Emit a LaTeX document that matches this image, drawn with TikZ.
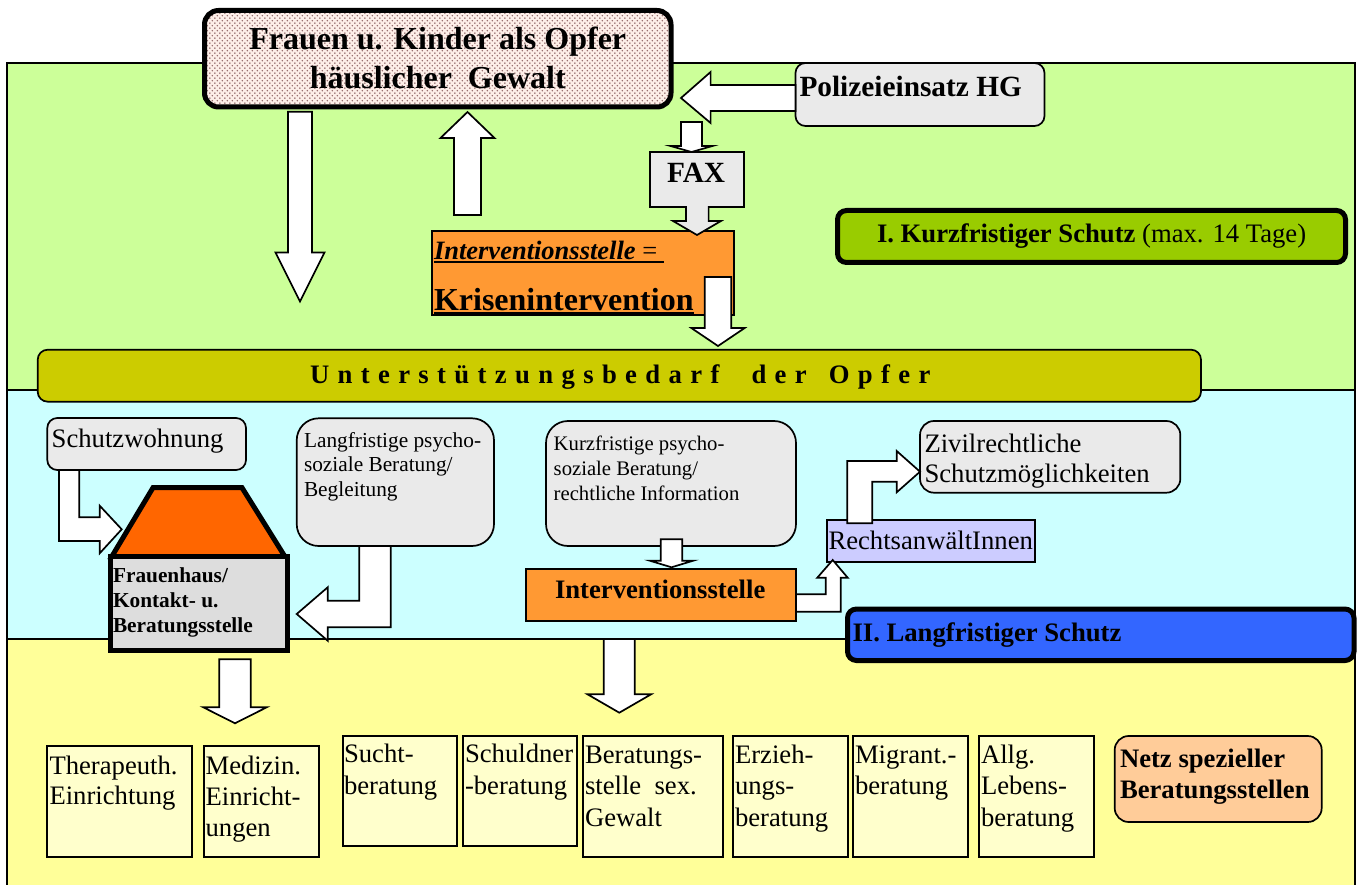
\documentclass[tikz,border=0pt]{standalone}
\usepackage{fontspec}
\setmainfont{Liberation Serif}
\newfontfamily\trackfont[LetterSpace=31.4]{Liberation Serif}
\usetikzlibrary{calc,patterns}
\definecolor{bandgreen}{HTML}{CCFF99}
\definecolor{bandcyan}{HTML}{CCFFFF}
\definecolor{bandyellow}{HTML}{FFFF99}
\definecolor{boxgrey}{HTML}{EAEAEA}
\definecolor{boxorange}{HTML}{FF9933}
\definecolor{roofred}{HTML}{FF6600}
\definecolor{housegrey}{HTML}{DDDDDD}
\definecolor{barolive}{HTML}{CCCC00}
\definecolor{tagone}{HTML}{99CC00}
\definecolor{tagtwo}{HTML}{3366FF}
\definecolor{lawyer}{HTML}{CCCCFF}
\definecolor{paleyellow}{HTML}{FFFFCC}
\definecolor{netzpeach}{HTML}{FFCC99}
\definecolor{dotpink}{HTML}{FDEEE8}
\definecolor{dotdark}{HTML}{8E6464}
\pgfdeclarepatternformonly{opferdots}{\pgfqpoint{-1pt}{-1pt}}{\pgfqpoint{4.4pt}{4.4pt}}{\pgfqpoint{5.4pt}{5.4pt}}{%
  \pgfpathcircle{\pgfqpoint{0pt}{0pt}}{0.9pt}
  \pgfpathcircle{\pgfqpoint{2.7pt}{2.7pt}}{0.9pt}
  \pgfusepath{fill}}
\newcommand\fs[2]{\fontsize{#1}{#2}\selectfont}
\newcommand\thickul[1]{\sbox0{#1}\rlap{\rule[-3pt]{\wd0}{2pt}}\box0}
% \tbox{style}{name}(x0,y0)(x1,y1)(text dx,first baseline dy){text}
\def\tbox#1#2(#3,#4)(#5,#6)(#7,#8)#9{%
  \pgfmathsetmacro\bw{#5-#3}\pgfmathsetmacro\bh{#6-#4}%
  \pgfmathsetmacro\bcx{(#3+#5)/2}\pgfmathsetmacro\bcy{(#4+#6)/2}%
  \node[#1,inner sep=0pt,outer sep=0pt,minimum width=\bw pt,minimum height=\bh pt,anchor=center] (#2) at (\bcx,\bcy)
    {\parbox[c][\bh pt][t]{\bw pt}{\hyphenpenalty=10000 \hfuzz=50pt \leftskip=#7pt\relax\leavevmode\rule{0pt}{#8pt}#9}};}
% vertical block arrow: x, from ref, dy, to ref, dy, half shaft, half head, head length
\newcommand\vblock[8]{%
  \draw[blockarrow] let \p1=(#1,0 |- #2),\p2=(#1,0 |- #4),
    \n1={\y1-(#3)},\n2={\y2-(#5)},\n3={ifthenelse(\n2>\n1,-1,1)*#8} in
    ({\x1-#6},{\n1}) -- ({\x1-#6},{\n2+\n3}) -- ({\x1-#7},{\n2+\n3}) -- ({\x1},{\n2})
    -- ({\x1+#7},{\n2+\n3}) -- ({\x1+#6},{\n2+\n3}) -- ({\x1+#6},{\n1}) -- cycle;}
\tikzset{
  x=1pt,y=-1pt,
  thinline/.style={draw=black,line width=1.7pt},
  blockarrow/.style={thinline,fill=white,line join=miter},
  band/.style={draw=black,line width=1.5pt},
  plainbox/.style={thinline,fill=#1},
  softbox/.style={thinline,fill=#1,rounded corners=10pt},
  softbig/.style={thinline,fill=#1,rounded corners=22pt},
  heavybox/.style={draw=black,line width=5pt,fill=#1,rounded corners=9pt},
  cellbox/.style={draw=black,line width=2pt,fill=paleyellow},
  textonly/.style={draw=none}
}
\begin{document}
\begin{tikzpicture}
\useasboundingbox (0,0) rectangle (1357,885);
\fill[white] (0,0) rectangle (1357,885);
% bands
\draw[band,fill=bandgreen] (7,63) rectangle (1355,390);
\draw[band,fill=bandcyan] (7,390) rectangle (1355,639);
\draw[band,fill=bandyellow] (7,639) rectangle (1355,890);
% victim box
\tbox{heavybox=dotpink,rounded corners=14pt,preaction={fill=dotpink},pattern=opferdots,pattern color=dotdark}{victim}(204.5,10.5)(671,107)(0,39.5){\centering\fs{32}{38.5}\bfseries Frauen u. Kinder als Opfer\\häuslicher\ \ Gewalt}
% police
\tbox{softbox=boxgrey}{police}(795.5,63)(1044.5,126)(4,33.7){\fs{29.33}{34}\bfseries Polizeieinsatz HG}
% upper orange box
\tbox{plainbox=boxorange}{krise}(432,231)(734,315)(2,29){\fs{26.5}{51}\thickul{\textbf{\textit{Interventionsstelle}} = }\\\fs{32}{51}\thickul{\textbf{Krisenintervention}}}
% fax callout
\draw[thinline,fill=boxgrey] (650,152) -- (744,152) -- (744,207) -- (708.6,207) -- (708.6,221) -- (721,221) -- (697,235)
  -- (673,221) -- (686,221) -- (686,207) -- (650,207) -- cycle;
\tbox{textonly}{fax}(650,152)(744,207)(17,30.7){\fs{29.33}{34}\bfseries FAX}
% tags
\tbox{heavybox=tagone}{tagI}(837.5,210.5)(1345.5,262.5)(39.5,32.2){\fs{26.67}{31}\textbf{I. Kurzfristiger Schutz} (max. 14 Tage)}
\coordinate (freeA) at (300,301.5);
\coordinate (freeB) at (718,346);
% connectors upper region
\vblock{300}{victim.south}{4.7}{freeA}{0}{12}{24.5}{49}
\vblock{467.5}{krise.north}{-16}{victim.south}{5}{13.5}{27}{26}
\vblock{691.5}{police.south}{-4}{fax.north}{0}{10.5}{21}{6}
\vblock{718}{krise.south}{-38}{freeB}{0}{13.3}{26.7}{18}
\coordinate (tipP) at (681,98);
\draw[blockarrow] (police.west |- 0,85) -- (710.6,85) -- (710.6,72) -- (tipP) -- (710.6,123) -- (710.6,111) -- (police.west |- 0,111) -- cycle;
% bar
\tbox{softbox=barolive}{bar}(37.7,349.7)(1201,401.7)(272.3,33.3){\fs{26.67}{31}\trackfont\bfseries Unterstützungsbedarf \hspace{17pt}der \hspace{7pt}Opfer}
% middle boxes
\tbox{softbox=boxgrey}{schutz}(47.3,418)(246,470)(4.4,29){\fs{26.67}{31}Schutzwohnung}
\tbox{softbig=boxgrey}{lang}(296.7,418.3)(494,546)(7.3,28.7){\fs{21.33}{24.5}Langfristige psycho-\\soziale Beratung/\\Begleitung}
\tbox{softbig=boxgrey}{kurz}(546,421)(796,546)(7.7,29){\fs{20.7}{25}Kurzfristige psycho-\\soziale Beratung/\\rechtliche Information}
\tbox{plainbox=boxorange}{interv}(525.7,569)(796,621)(29.3,29){\fs{26.67}{31}\bfseries Interventionsstelle}
\tbox{plainbox=lawyer}{rechts}(826.7,520)(1035,561.7)(1.8,29){\fs{26.67}{31}RechtsanwältInnen}
\tbox{softbox=boxgrey,rounded corners=14pt}{zivil}(920,421)(1180.3,492.7)(4.5,31){\fs{26.67}{30}Zivilrechtliche\\Schutzmöglichkeiten}
% tag II
\tbox{heavybox=tagtwo}{tagII}(847.5,609)(1354,660.5)(5,32.7){\fs{26.67}{31}\bfseries II. Langfristiger Schutz}
% lower cells
\tbox{cellbox}{cell1}(47.3,746)(191.7,857)(2.2,28){\fs{26.67}{30}Therapeuth.\\Einrichtung}
\tbox{cellbox}{cell2}(204.3,746)(319,857)(1.3,28){\fs{26.67}{31}Medizin.\\Einricht-\\ungen}
\tbox{cellbox}{cell3}(342.7,735.7)(457,846)(1.3,26.3){\fs{26.67}{32}Sucht-\\beratung}
\tbox{cellbox}{cell4}(462.8,735.7)(577,846)(2.2,26.3){\fs{26.67}{32}Schuldner\\-beratung}
\tbox{cellbox}{cell5}(583,736)(723,857)(2,27){\fs{26.67}{31.5}Beratungs-\\stelle\ \ sex.\\Gewalt}
\tbox{cellbox}{cell6}(732.7,736)(848,856.5)(2.3,27){\fs{26.67}{31.5}Erzieh-\\ungs-\\beratung}
\tbox{cellbox}{cell7}(853,736)(968,857)(2,27){\fs{26.67}{31}Migrant.-\\beratung}
\tbox{cellbox}{cell8}(978.6,736)(1094,857)(2.4,27){\fs{26.67}{31.5}Allg.\\Lebens-\\beratung}
\tbox{softbox=netzpeach,rounded corners=14pt}{netz}(1114.7,736)(1321.7,822)(5.3,31){\fs{26.67}{31}\bfseries Netz spezieller\\Beratungsstellen}
% bent arrows
\draw[blockarrow] (59,0 |- schutz.south) -- (59,541) -- (99.7,541) -- (99.7,553.3) -- (121.7,529.3) -- (99.7,505.7) -- (99.7,517.3) -- (79.3,517.3) -- (79.3,0 |- schutz.south) -- cycle;
\draw[blockarrow] (390.7,0 |- lang.south) -- (390.7,627.3) -- (327.7,627.3) -- (327.7,640.7) -- (296.7,614) -- (327.7,587.3) -- (327.7,600.7) -- (359.3,600.7) -- (359.3,0 |- lang.south) -- cycle;
\draw[blockarrow] (interv.east |- 0,611.7) -- (840.7,611.7) -- (840.7,577.7) -- (847.7,577.7) -- (832.7,560) -- (817.3,577.7) -- (825.7,577.7) -- (825.7,594.3) -- (interv.east |- 0,594.3) -- cycle;
\draw[blockarrow] (847.3,523.3) -- (847.3,461) -- (896.7,461) -- (896.7,451) -- (zivil.west |- 0,471.7) -- (896.7,492.3) -- (896.7,481.7) -- (872.3,481.7) -- (872.3,523.3) -- cycle;
\vblock{671.5}{kurz.south}{-6.7}{interv.north}{-1.7}{10.8}{21.7}{6.6}
% house
\draw[draw=black,line width=5pt,fill=roofred,line join=miter] (153,487.7) -- (242,487.7) -- (285,556.7) -- (111.7,556.7) -- cycle;
\tbox{draw=black,line width=5pt,fill=housegrey}{house}(110,556.7)(287.3,650.7)(3,25.3){\fs{21.33}{25}\bfseries Frauenhaus/\\Kontakt- u.\\Beratungsstelle}
\vblock{235}{house.south}{8.6}{cell2.north}{-22.7}{15.8}{31.7}{16}
\vblock{619.3}{interv.south}{18}{cell5.north}{-23.3}{15.5}{31.8}{18.4}
\end{tikzpicture}
\end{document}
